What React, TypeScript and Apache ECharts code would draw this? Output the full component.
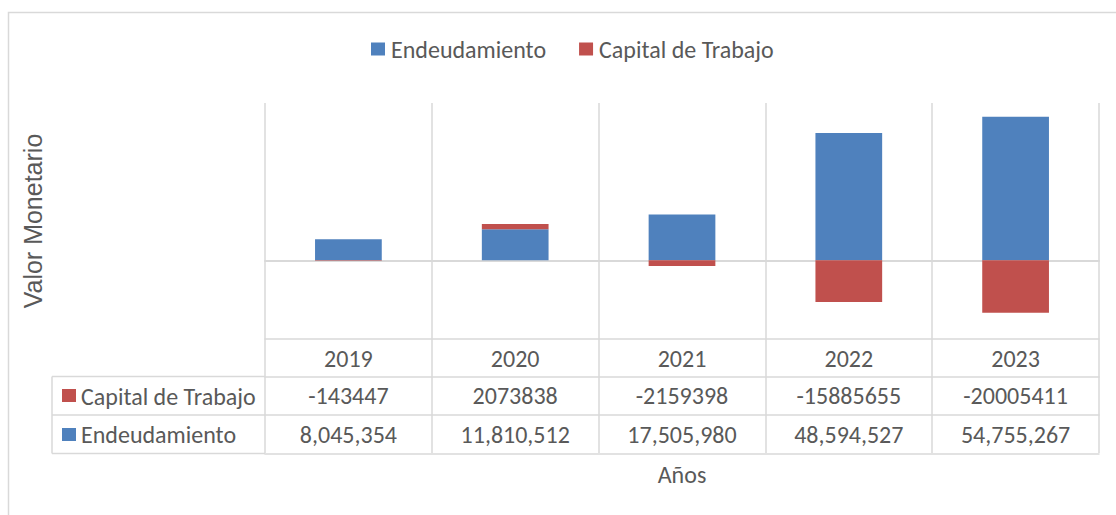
import React, { useEffect, useRef } from "react";
import * as echarts from "echarts";

const years = ["2019", "2020", "2021", "2022", "2023"];
const endeudamiento = [8045354, 11810512, 17505980, 48594527, 54755267];
const capitalTrabajo = [-143447, 2073838, -2159398, -15885655, -20005411];

const FONT = "Carlito, Lato, 'Liberation Sans', sans-serif";
const TXT = "#595959";
const GRID = "#D9D9D9";
const BLUE = "#4F81BD";
const RED = "#C0504D";
const FS = 24;

const fmtComma = (v: number) => v.toLocaleString("en-US");

export default function App() {
  const ref = useRef<HTMLDivElement>(null);
  useEffect(() => {
    if (!ref.current) return;
    const chart = echarts.init(ref.current, undefined, { renderer: "svg" });
    const labelStyle = { color: TXT, fontSize: FS, fontFamily: FONT };
    const tableAxis = (offset: number, formatter: any, extra: any = {}) => ({
      type: "category",
      data: years,
      position: "bottom",
      offset,
      axisLine: { show: true, onZero: false, lineStyle: { color: GRID, width: 1.5 } },
      axisTick: { show: false },
      splitLine: { show: false },
      axisLabel: formatter
        ? { show: true, margin: 7, formatter, ...labelStyle }
        : { show: false },
      ...extra,
    });
    chart.setOption({
      animation: false,
      textStyle: { fontFamily: FONT },
      legend: {
        top: 32,
        left: 366,
        icon: "rect",
        itemWidth: 14,
        itemHeight: 13,
        itemGap: 33,
        textStyle: { color: TXT, fontSize: FS, fontFamily: FONT, padding: [0, 0, 0, 1] },
        data: ["Endeudamiento", "Capital de Trabajo"],
      },
      grid: { left: 265, right: 17, top: 103, bottom: 176, containLabel: false },
      yAxis: {
        type: "value",
        min: -30000000,
        max: 60000000,
        interval: 10000000,
        axisLine: { show: false },
        axisTick: { show: false },
        axisLabel: { show: false },
        splitLine: { show: false },
        name: "Valor Monetario",
        nameLocation: "middle",
        nameGap: 220,
        nameTextStyle: { color: TXT, fontSize: 25, fontFamily: "'Liberation Sans', Arial, sans-serif" },
      },
      xAxis: [
        {
          type: "category",
          data: years,
          axisLine: { show: true, onZero: true, lineStyle: { color: GRID, width: 2 } },
          axisTick: { show: false },
          axisLabel: { show: false },
          splitLine: { show: true, lineStyle: { color: GRID, width: 1.5 } },
        },
        tableAxis(0, (_v: string, i: number) => years[i], {
          axisTick: {
            show: true,
            length: 114,
            lineStyle: { color: GRID, width: 1.5 },
          },
        }),
        tableAxis(37.5, (_v: string, i: number) => String(capitalTrabajo[i])),
        tableAxis(76, (_v: string, i: number) => fmtComma(endeudamiento[i])),
        tableAxis(114.5, null, {
          name: "Años",
          nameLocation: "middle",
          nameGap: 9,
          nameTextStyle: { ...labelStyle, verticalAlign: "top" },
        }),
      ],
      series: [
        {
          name: "Endeudamiento",
          type: "bar",
          stack: "total",
          barWidth: "40%",
          itemStyle: { color: BLUE },
          data: endeudamiento,
        },
        {
          name: "Capital de Trabajo",
          type: "bar",
          stack: "total",
          barWidth: "40%",
          itemStyle: { color: RED },
          data: capitalTrabajo,
        },
      ],
      graphic: [
        {
          type: "rect",
          shape: { x: 8.5, y: 12.5, width: 1200, height: 600 },
          style: { fill: "none", stroke: GRID, lineWidth: 1.5 },
          silent: true,
        },
        { type: "line", shape: { x1: 52, y1: 376.5, x2: 265, y2: 376.5 }, style: { stroke: GRID, lineWidth: 1.5 } },
        { type: "line", shape: { x1: 52, y1: 415, x2: 265, y2: 415 }, style: { stroke: GRID, lineWidth: 1.5 } },
        { type: "line", shape: { x1: 52, y1: 453.5, x2: 265, y2: 453.5 }, style: { stroke: GRID, lineWidth: 1.5 } },
        { type: "line", shape: { x1: 52, y1: 376.5, x2: 52, y2: 453.5 }, style: { stroke: GRID, lineWidth: 1.5 } },
        { type: "rect", shape: { x: 62, y: 389, width: 14, height: 13 }, style: { fill: RED } },
        { type: "rect", shape: { x: 62, y: 428, width: 14, height: 13 }, style: { fill: BLUE } },
        {
          type: "text",
          x: 81,
          y: 396,
          style: { text: "Capital de Trabajo", fill: TXT, fontSize: FS, fontFamily: FONT, verticalAlign: "middle" },
        },
        {
          type: "text",
          x: 81,
          y: 434.5,
          style: { text: "Endeudamiento", fill: TXT, fontSize: FS, fontFamily: FONT, verticalAlign: "middle" },
        },
      ],
    });
    return () => chart.dispose();
  }, []);
  return (
    <div
      ref={ref}
      style={{ position: "absolute", left: 0, top: 0, width: 1116, height: 515, background: "#fff" }}
    />
  );
}
